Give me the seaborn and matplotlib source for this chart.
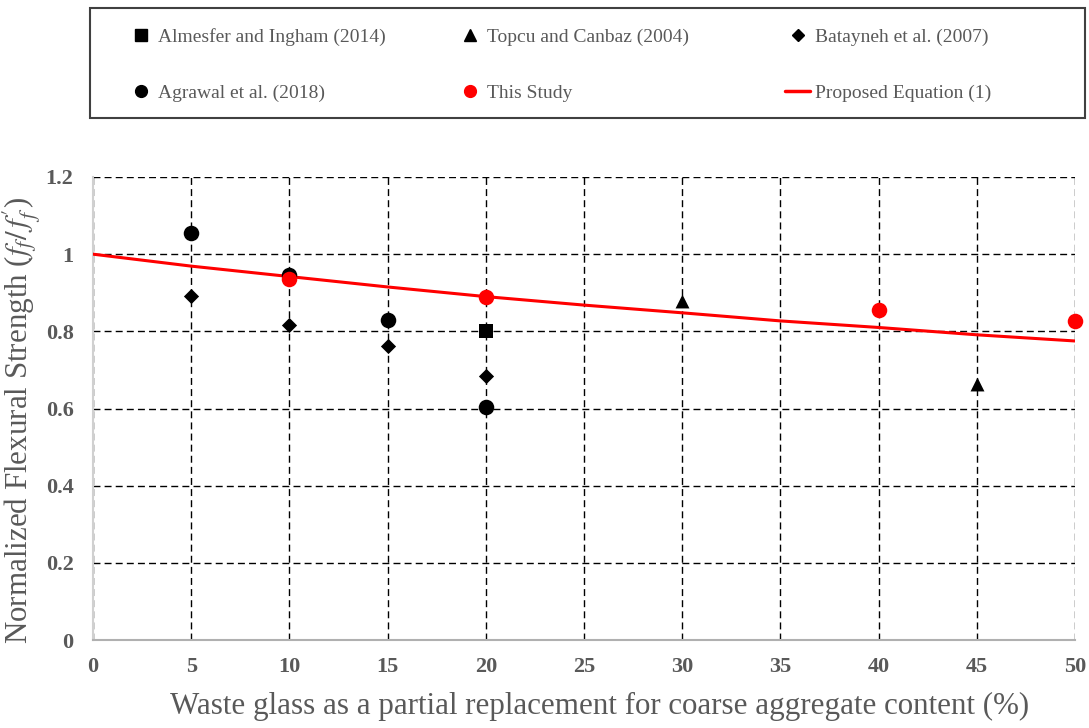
import pandas as pd
import matplotlib.pyplot as plt
import matplotlib.patches as mpatches
import seaborn as sns

# Data
almesfer_x = [20]
almesfer_y = [0.80]
topcu_x = [30, 45]
topcu_y = [0.879, 0.663]
batayneh_x = [5, 10, 15, 20]
batayneh_y = [0.892, 0.816, 0.763, 0.683]
agrawal_x = [5, 10, 15, 20]
agrawal_y = [1.056, 0.946, 0.829, 0.603]
study_x = [10, 20, 40, 50]
study_y = [0.936, 0.888, 0.855, 0.827]
eq_x = [0, 5, 10, 15, 20, 25, 30, 35, 40, 45, 50]
eq_y = [1.0, 0.969, 0.942, 0.915, 0.890, 0.868, 0.848, 0.827, 0.810, 0.791, 0.775]
x_ticks = [0, 5, 10, 15, 20, 25, 30, 35, 40, 45, 50]
y_ticks = [0, 0.2, 0.4, 0.6, 0.8, 1, 1.2]

sns.set_theme(style="white")
plt.rcParams['font.family'] = ['Liberation Serif', 'DejaVu Serif']
plt.rcParams['mathtext.fontset'] = 'stix'

gray = "#595959"
W, H = 1089, 728

fig = plt.figure(figsize=(10.89, 7.28), dpi=100)
ax = fig.add_axes([93 / W, 1 - 640 / H, (1075 - 93) / W, (640 - 177) / H])

series = [
    ("Almesfer and Ingham (2014)", almesfer_x, almesfer_y, "s", "black", 100),
    ("Topcu and Canbaz (2004)", topcu_x, topcu_y, "^", "black", 100),
    ("Batayneh et al. (2007)", batayneh_x, batayneh_y, "D", "black", 60),
    ("Agrawal et al. (2018)", agrawal_x, agrawal_y, "o", "black", 125),
    ("This Study", study_x, study_y, "o", "red", 125),
]
handles = {}
for name, xs, ys, mk, col, sz in series:
    df = pd.DataFrame({"x": xs, "y": ys})
    sns.scatterplot(data=df, x="x", y="y", marker=mk, color=col, s=sz,
                    edgecolor=col, linewidth=0, ax=ax, zorder=4, clip_on=False)
    handles[name] = plt.Line2D([], [], marker=mk, color=col, linestyle="none",
                               markersize=8.5 if mk != "D" else 6.5)

eq_df = pd.DataFrame({"x": eq_x, "y": eq_y})
sns.lineplot(data=eq_df, x="x", y="y", color="red", linewidth=2.2, ax=ax, zorder=3)
handles["Proposed Equation (1)"] = plt.Line2D([], [], color="red", linewidth=2.5)

ax.set_xlim(0, 50)
ax.set_ylim(0, 1.2)
ax.set_xticks(x_ticks)
ax.set_yticks(y_ticks)
ax.set_yticklabels(["0", "0.2", "0.4", "0.6", "0.8", "1", "1.2"])
ax.grid(True, color="black", linestyle=(0, (5, 3)), linewidth=1.0)
for s in ["top", "right"]:
    ax.spines[s].set_visible(False)
ax.spines["left"].set_color("#d0d0d0")
ax.spines["bottom"].set_color("#b0b0b0")
ax.spines["left"].set_linewidth(1.5)
ax.spines["bottom"].set_linewidth(1.5)
ax.tick_params(axis="both", length=0, labelsize=16, colors=gray)
ax.tick_params(axis="x", pad=12)
ax.tick_params(axis="y", pad=14)
for lab in ax.get_xticklabels() + ax.get_yticklabels():
    lab.set_fontweight("bold")
ax.set_xlabel("Waste glass as a partial replacement for coarse aggregate content (%)",
              fontsize=22.3, color=gray)
ax.set_ylabel(r"Normalized Flexural Strength ($f_f/\,f_f'$)", fontsize=22.3,
              color=gray)
ax.xaxis.set_label_coords((600 - 93) / 982, (640 - 692) / 463)
ax.yaxis.set_label_coords((44 - 93) / 982, 0.475)

# legend: three columns placed separately, inside one box
cols = [
    (128, ["Almesfer and Ingham (2014)", "Agrawal et al. (2018)"]),
    (457, ["Topcu and Canbaz (2004)", "This Study"]),
    (785, ["Batayneh et al. (2007)", "Proposed Equation (1)"]),
]
for x0, names in cols:
    fig.legend([handles[k] for k in names], names, loc="center left",
               bbox_to_anchor=(x0 / W, 1 - 65 / H), fontsize=14, frameon=False,
               labelcolor=gray, handlelength=1.3, handletextpad=0.25,
               borderpad=0, borderaxespad=0, labelspacing=2.0)

fig.patches.append(mpatches.Rectangle((90 / W, 1 - 118 / H), 995 / W, 110 / H,
                                      transform=fig.transFigure, fill=False,
                                      edgecolor="#404040", linewidth=1.5))

fig.savefig("out.png", dpi=100)
